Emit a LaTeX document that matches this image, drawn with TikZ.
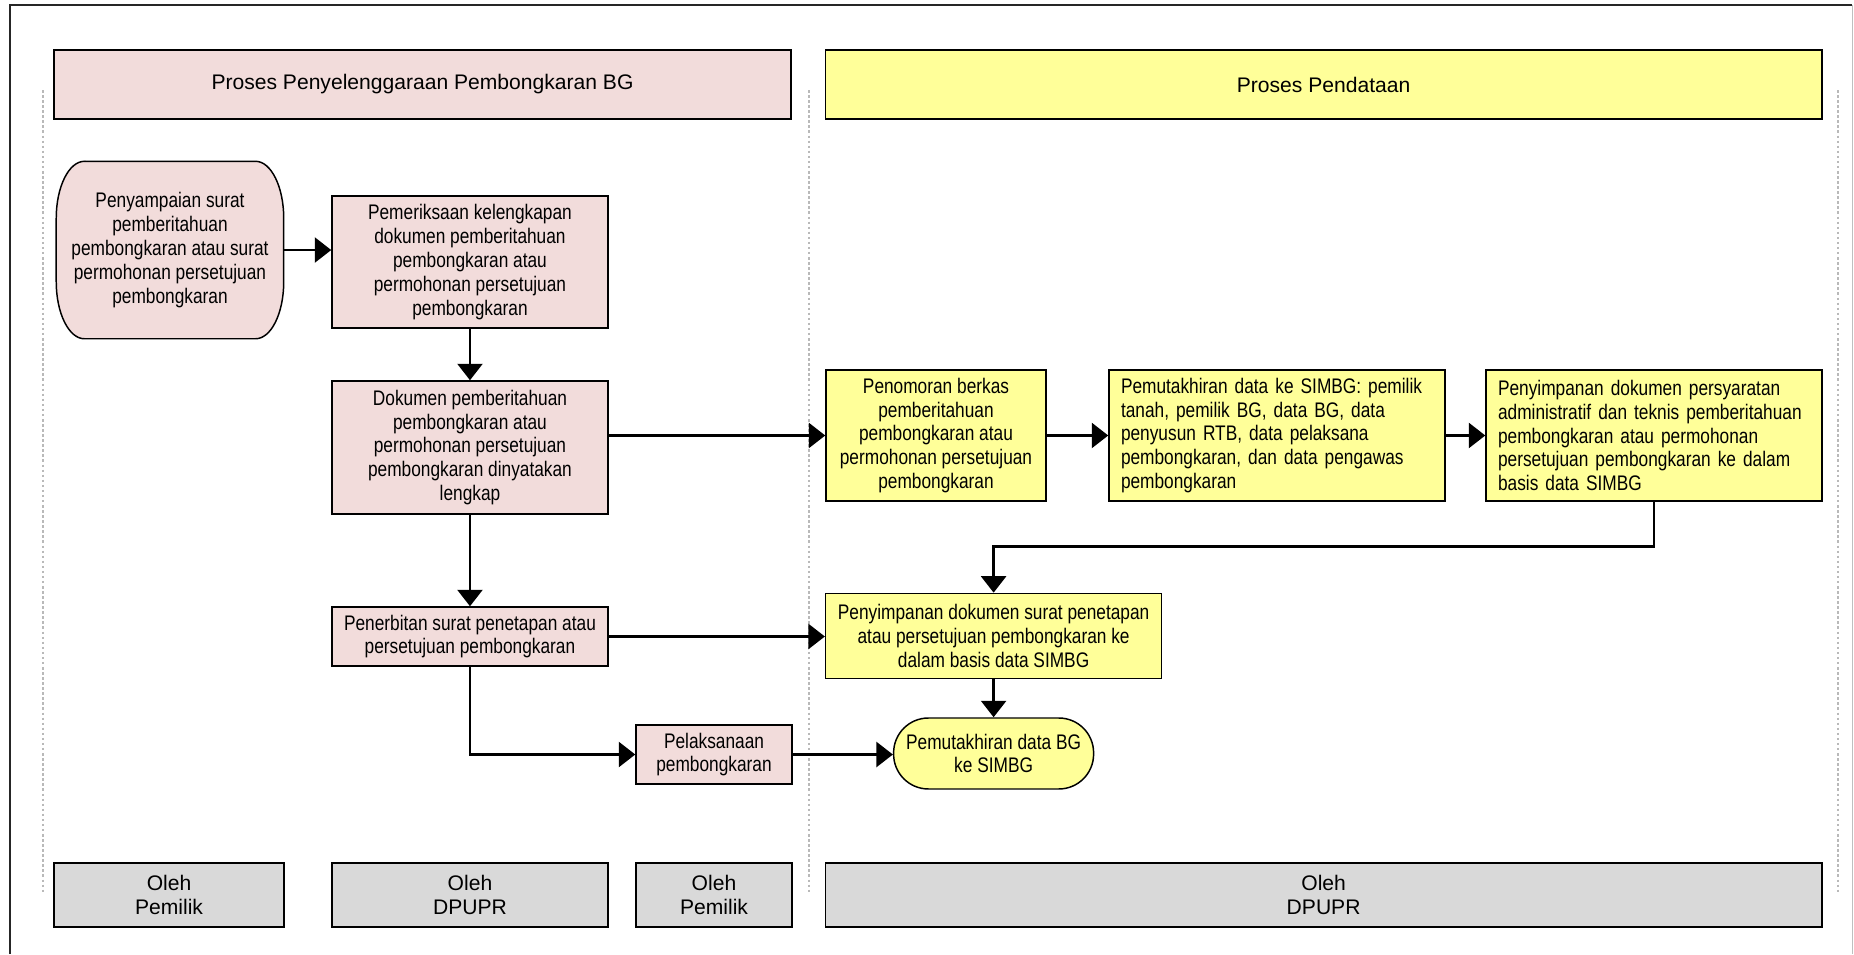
\documentclass[tikz,border=0pt]{standalone}
\usepackage{fontspec}
\setmainfont{Liberation Sans}[FakeStretch=0.82]
\newfontfamily\headfont{Liberation Sans}
\usepackage{tikz}
\usetikzlibrary{shapes,arrows.meta,positioning,calc,backgrounds}

\definecolor{pinkfill}{RGB}{242,220,219}
\definecolor{yellowfill}{RGB}{255,255,153}
\definecolor{grayfill}{RGB}{217,217,217}

\begin{document}
\begin{tikzpicture}[>={Triangle[length=7.8pt,width=11.8pt]}, thick,
    box/.style={draw, line width=0.7pt, align=center, inner sep=0pt, font=\fontsize{10}{11.3}\selectfont},
    pinkbox/.style={box, fill=pinkfill},
    yellowbox/.style={box, fill=yellowfill},
    leftbox/.style={yellowbox, align=left, inner xsep=0.2cm, text width=5.2cm},
    headbox/.style={draw, line width=0.7pt, minimum height=1.15cm, font=\headfont\fontsize{10}{11.5}\selectfont},
    footbox/.style={draw, line width=0.7pt, fill=grayfill, align=center, minimum height=1.067cm, font=\headfont\fontsize{10}{11}\selectfont},
    lane/.style={gray!55, line width=0.8pt, dash pattern=on 1.2pt off 1.2pt},
    flow/.style={->, line width=1.3pt}]

        \useasboundingbox (0,0) rectangle (30.9,-15.9);
        \draw[line width=1pt, black!85] (0.167,-15.9) -- (0.167,-0.083) -- (30.867,-0.083);
        \draw[gray!50, line width=0.5pt] (30.867,-0.083) -- (30.867,-15.9);

        % Lanes
        \foreach \x in {0.717, 13.483, 30.633}
            \draw[lane] (\x,-1.5) -- (\x,-14.867);

        % Headers
        \node[headbox, fill=pinkfill, minimum width=12.283cm] (lefthead) at (7.042,-1.408) {Proses Penyelenggaraan Pembongkaran BG};
        \node[headbox, fill=yellowfill, minimum width=16.608cm] (righthead) at (22.06,-1.408) {Proses Pendataan};

        % Nodes
        \node[box, draw=none, minimum width=3.767cm, minimum height=2.933cm] (sampai) at (2.833,-4.167) {Penyampaian surat\\pemberitahuan\\pembongkaran atau surat\\permohonan persetujuan\\pembongkaran};
        \begin{scope}[on background layer, x radius=0.47cm, y radius=0.95cm]
            \draw[line width=0.7pt, fill=pinkfill] ($(sampai.north west)+(0.47,0)$) -- ($(sampai.north east)+(-0.47,0)$)
                arc[start angle=90, end angle=0] -- ($(sampai.south east)+(0,0.95)$)
                arc[start angle=0, end angle=-90] -- ($(sampai.south west)+(0.47,0)$)
                arc[start angle=270, end angle=180] -- ($(sampai.north west)+(0,-0.95)$)
                arc[start angle=180, end angle=90] -- cycle;
        \end{scope}

        \node[pinkbox, minimum width=4.6cm, minimum height=2.2cm] (periksa) at (7.833,-4.367) {Pemeriksaan kelengkapan\\dokumen pemberitahuan\\pembongkaran atau\\permohonan persetujuan\\pembongkaran};
        \node[pinkbox, minimum width=4.6cm, minimum height=2.217cm, below of=periksa, node distance=3.091cm] (dokumen) {Dokumen pemberitahuan\\pembongkaran atau\\permohonan persetujuan\\pembongkaran dinyatakan\\lengkap};
        \node[pinkbox, minimum width=4.6cm, minimum height=0.983cm, below of=dokumen, node distance=3.15cm] (terbit) {Penerbitan surat penetapan atau\\persetujuan pembongkaran};
        \node[pinkbox, minimum width=2.6cm, minimum height=0.983cm] (laksana) at (11.9,-12.575) {Pelaksanaan\\pembongkaran};

        \node[yellowbox, minimum width=3.667cm, minimum height=2.183cm] (nomor) at (15.6,-7.258) {Penomoran berkas\\pemberitahuan\\pembongkaran atau\\permohonan persetujuan\\pembongkaran};
        \node[leftbox, minimum height=2.183cm, right of=nomor, node distance=5.683cm] (mutakhir) {Pemutakhiran data ke SIMBG: pemilik\\tanah, pemilik BG, data BG, data\\penyusun RTB, data pelaksana\\pembongkaran, dan data pengawas\\pembongkaran};
        \node[leftbox, minimum height=2.183cm, right of=mutakhir, node distance=6.284cm] (simpan) {Penyimpanan dokumen persyaratan\\administratif dan teknis pemberitahuan\\pembongkaran atau permohonan\\persetujuan pembongkaran ke dalam\\basis data SIMBG};
        \node[yellowbox, minimum width=5.6cm, minimum height=1.42cm] (simpansurat) at (16.56,-10.6) {Penyimpanan dokumen surat penetapan\\atau persetujuan pembongkaran ke\\dalam basis data SIMBG};
        \node[yellowbox, rounded corners=0.58cm, minimum width=3.333cm, minimum height=1.183cm, below of=simpansurat, node distance=1.958cm] (mutakhirbg) {Pemutakhiran data BG\\ke SIMBG};

        % Footers
        \node[footbox, minimum width=3.833cm] (oleh1) at (2.817,-14.917) {Oleh\\Pemilik};
        \node[footbox, minimum width=4.6cm] (oleh2) at (7.833,-14.917) {Oleh\\DPUPR};
        \node[footbox, minimum width=2.6cm] (oleh3) at (11.9,-14.917) {Oleh\\Pemilik};
        \node[footbox, minimum width=16.608cm] (oleh4) at (22.06,-14.917) {Oleh\\DPUPR};

        % Edges
        \draw[flow] (sampai.east) -- (sampai.east -| periksa.west);
        \draw[flow] (periksa) -- (dokumen);
        \draw[flow] (dokumen) -- (terbit);
        \draw[flow] (dokumen.east |- nomor.west) -- (nomor.west);
        \draw[flow] (nomor) -- (mutakhir);
        \draw[flow] (mutakhir) -- (simpan);
        \draw[flow] (simpan.south) -- ++(0,-0.75) -| (simpansurat.north);
        \draw[flow] (terbit.east) -- (terbit.east -| simpansurat.west);
        \draw[flow] (terbit.south) |- (laksana.west);
        \draw[flow] (laksana.east) -- (laksana.east -| mutakhirbg.west);
        \draw[flow] (simpansurat) -- (mutakhirbg);
\end{tikzpicture}
\end{document}
